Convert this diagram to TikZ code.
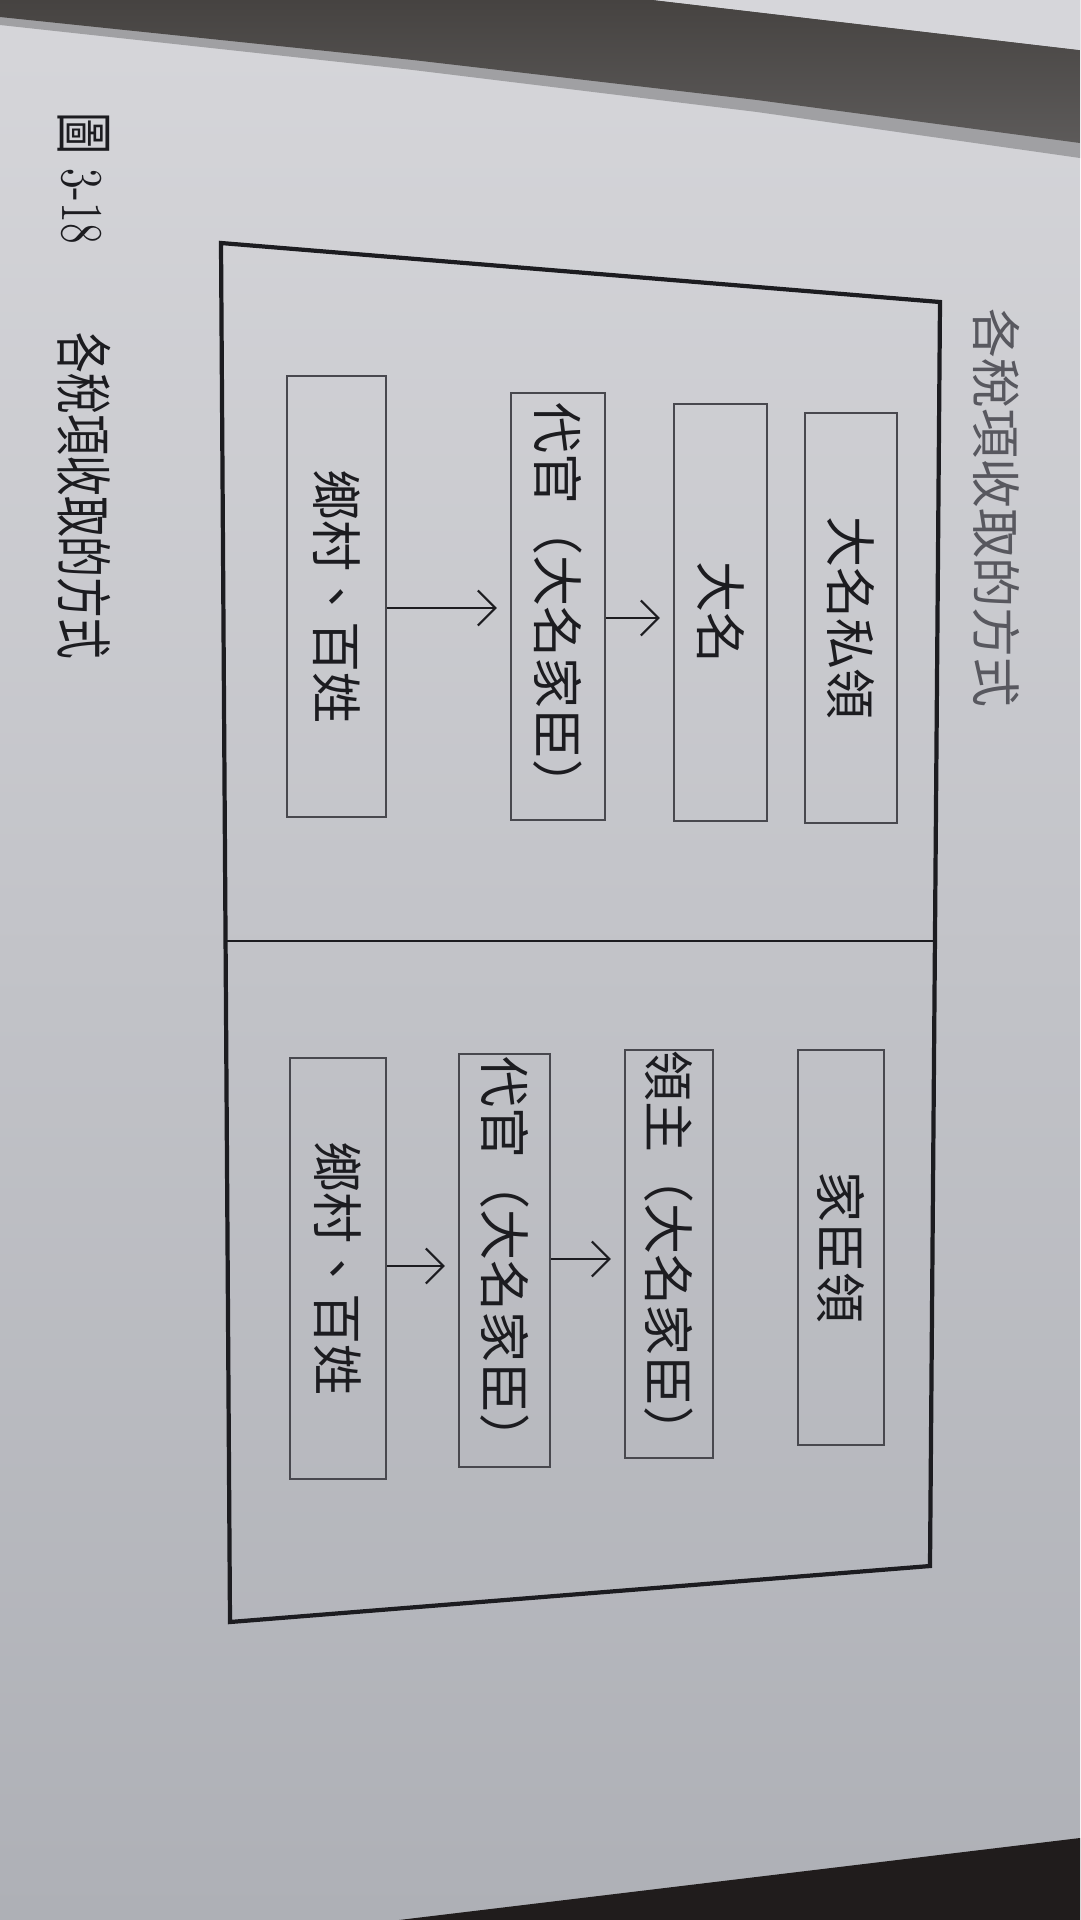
\documentclass[tikz,border=0pt]{standalone}
\usepackage{fontspec}
\newfontfamily\cjk{Noto Sans CJK TC}
\usepackage{tikz}
\usetikzlibrary{arrows.meta}

\definecolor{paperhi}{RGB}{214,214,218}
\definecolor{paperlo}{RGB}{174,176,182}
\definecolor{shadow}{RGB}{70,67,65}
\definecolor{softshadow}{RGB}{160,160,163}
\definecolor{table}{RGB}{32,28,28}
\definecolor{ink}{RGB}{28,28,32}
\definecolor{boxline}{RGB}{72,72,78}
\definecolor{titlegray}{RGB}{88,88,95}

\tikzset{
  taxbox/.style={draw=boxline, line width=0.6pt, rotate=-90, inner sep=0pt,
    text=ink, font=\cjk\fontsize{14.5}{17}\selectfont},
  uparrow/.style={-{Straight Barb[length=5pt,width=10pt]}, line width=0.6pt,
    draw=ink, shorten >=1.3mm},
  frameline/.style={line width=1.2pt, draw=ink, line join=miter},
}

\begin{document}
\begin{tikzpicture}[x=0.1mm, y=-0.1mm]
\useasboundingbox (0,0) rectangle (1080,1920);

% paper and the edges of the photo
\shade[top color=paperhi, bottom color=paperlo] (0,0) rectangle (1080,1920);
\fill[softshadow] (0,0) -- (1080,0) -- (1080,158) -- (757,112) -- (413,70) -- (0,25) -- cycle;
\shade[top color=shadow, bottom color=shadow!75!softshadow]
  (0,0) -- (654,0) -- (1080,50) -- (1080,143) -- (757,100) -- (413,60) -- (0,17) -- cycle;
\fill[paperhi] (654,0) -- (1080,0) -- (1080,50) -- cycle;
\fill[table] (399,1920) -- (1080,1838) -- (1080,1920) -- cycle;

% outer frame, split in two halves
\draw[frameline] (221,243) -- (940,302) -- (930,1566) -- (230,1622) -- cycle;
\draw[line width=0.6pt, draw=ink] (225.5,941) -- (935,941);

% heading above the frame
\node[rotate=-90, text=titlegray, font=\cjk\fontsize{14.2}{17}\selectfont] (head) at (997,508) {各稅項收取的方式};

% first half
\node[taxbox, minimum width=41mm, minimum height=9.2mm] (sl) at (851,618) {大名私領};
\node[taxbox, minimum width=41.7mm, minimum height=9.3mm] (dm) at (720.5,612.5) {大名};
\node[taxbox, minimum width=42.7mm, minimum height=9.4mm] (dk1) at (558,606.5) {代官（大名家臣）};
\node[taxbox, minimum width=44.1mm, minimum height=9.9mm] (cm1) at (336.5,596.5) {鄉村、百姓};
\draw[uparrow] (cm1.north |- 0,608) -- (dk1.south |- 0,608);
\draw[uparrow] (dk1.north |- 0,618) -- (dm.south |- 0,618);

% second half
\node[taxbox, minimum width=39.5mm, minimum height=8.6mm] (jl) at (841,1247.5) {家臣領};
\node[taxbox, minimum width=40.4mm, minimum height=8.8mm] (lz) at (669,1254) {領主（大名家臣）};
\node[taxbox, minimum width=41.3mm, minimum height=9.1mm] (dk2) at (504.5,1260.5) {代官（大名家臣）};
\node[taxbox, minimum width=42.1mm, minimum height=9.6mm] (cm2) at (338,1268.5) {鄉村、百姓};
\draw[uparrow] (cm2.north |- 0,1266) -- (dk2.south |- 0,1266);
\draw[uparrow] (dk2.north |- 0,1259) -- (lz.south |- 0,1259);

% caption
\node[rotate=-90, yscale=1.4, text=ink, font=\fontsize{12}{14}\selectfont] (capnum) at (84,178) {{\cjk 圖} 3-18};
\node[rotate=-90, yscale=1.4, text=ink, font=\cjk\fontsize{11.6}{14}\selectfont] (captext) at (84,496) {各稅項收取的方式};
\end{tikzpicture}
\end{document}
